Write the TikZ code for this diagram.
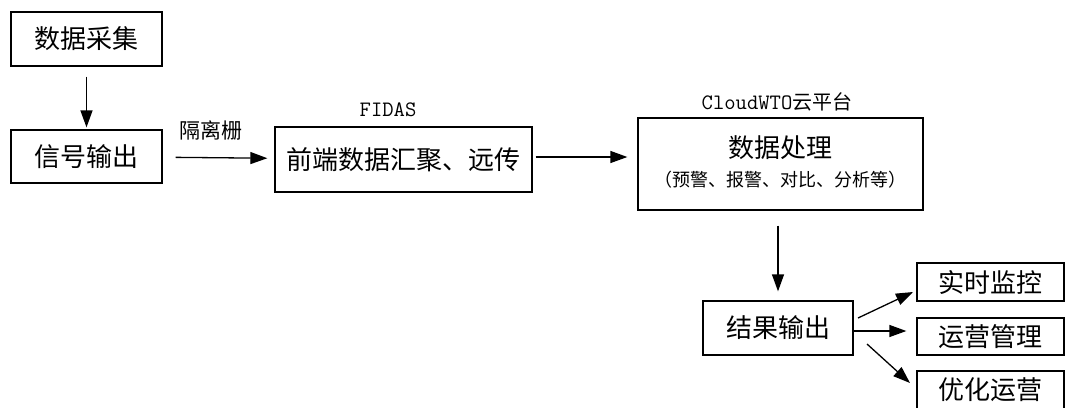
\documentclass[tikz,border=0pt]{standalone}
\usepackage{fontspec}
\setmainfont{Noto Sans CJK SC}
\usetikzlibrary{arrows.meta}
\tikzset{
  box/.style={draw, line width=1.3pt, inner sep=0pt, align=center},
  big/.style={font=\fontsize{26}{30}\selectfont},
  arr/.style={line width=1.3pt, -{Triangle[length=17pt,width=12pt]}},
  lbl/.style={inner sep=0pt, font=\fontsize{21}{24}\selectfont},
}
\begin{document}
\begin{tikzpicture}[x=1pt,y=-1pt]
\useasboundingbox (0,0) rectangle (1065,407);
\clip (0,0) rectangle (1065,407);
\node[box,big,minimum width=151pt,minimum height=54pt] (b1) at (86.5,39) {数据采集};
\node[box,big,minimum width=151pt,minimum height=53pt] (b2) at (86.5,156.5) {信号输出};
\node[box,big,minimum width=257pt,minimum height=65pt] (b3) at (403.5,159.5) {前端数据汇聚、远传};
\node[box,minimum width=285pt,minimum height=92pt] (b4) at (780.5,164) {};
\node[inner sep=0pt,big] (b4t) at (780.5,148) {数据处理};
\node[inner sep=0pt,font=\fontsize{18}{21}\selectfont] (b4s) at (780.5,180) {（预警、报警、对比、分析等）};
\node[box,big,minimum width=150pt,minimum height=54pt] (res) at (778,328) {结果输出};
\node[box,big,minimum width=147pt,minimum height=38pt] (r1) at (990.5,282) {实时监控};
\node[box,big,minimum width=147pt,minimum height=37pt] (r2) at (990.5,336.5) {运营管理};
\node[box,big,minimum width=147pt,minimum height=38pt] (r3) at (990.5,390) {优化运营};
\node[lbl] (iso) at (211,130) {隔离栅};
\node[lbl,font=\fontsize{22}{24}\ttfamily] (fidas) at (388,110) {FIDAS};
\node[lbl,font=\fontsize{20}{24}\selectfont] (cloud) at (777,102) {{\fontsize{22}{24}\ttfamily CloudWTO}云平台};
\draw[arr,shorten <=10pt,shorten >=2pt] (b1) -- (b2);
\draw[arr,shorten <=13pt,shorten >=7pt] (b2) -- (b3);
\draw[arr,shorten <=3pt,shorten >=10pt] (b3.east |- 0,157) -- (b4.west |- 0,157);
\draw[arr,shorten <=15pt,shorten >=9pt] (b4.south -| res.north) -- (res.north);
\coordinate (a1s) at (858,318);
\coordinate (a1e) at (913,292);
\coordinate (a3s) at (867,344);
\coordinate (a3e) at (910,383);
\draw[arr] (a1s) -- (a1e);
\draw[arr,shorten >=10pt] (res.east |- 0,331) -- (r2.west |- 0,331);
\draw[arr] (a3s) -- (a3e);
\end{tikzpicture}
\end{document}
